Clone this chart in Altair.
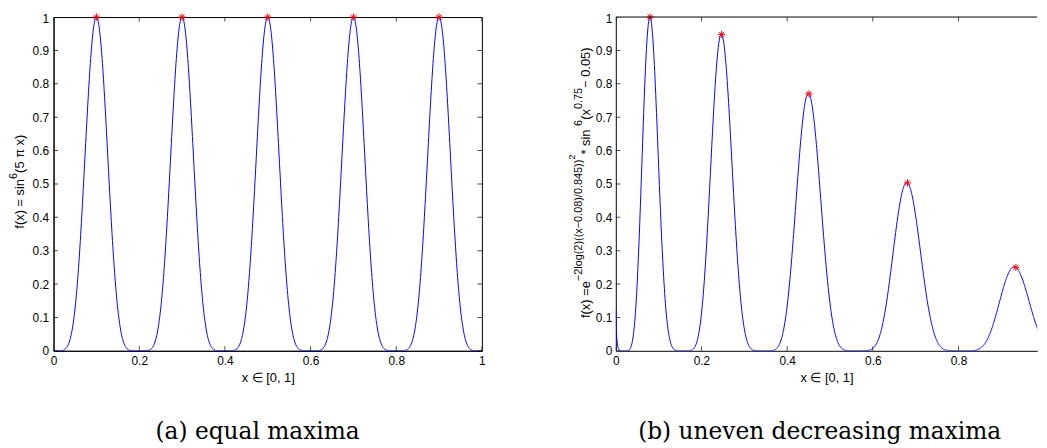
import numpy as np
import pandas as pd
import altair as alt

# ---------------- data ----------------
# sample grid and the two functions named on the y axes
x_grid = np.linspace(0.0, 1.0, 1201)
curve_a = np.sin(5 * np.pi * x_grid) ** 6
curve_b = np.exp(-2 * np.log(2) * ((x_grid - 0.08) / 0.854) ** 2) * np.sin(5 * np.pi * (x_grid ** 0.75 - 0.05)) ** 6

# maxima (red asterisks)
peaks_a_x = [0.1, 0.3, 0.5, 0.7, 0.9]
peaks_a_y = [1.0, 1.0, 1.0, 1.0, 1.0]
peaks_b_x = [0.08, 0.247, 0.451, 0.681, 0.934]
peaks_b_y = [1.0, 0.948, 0.770, 0.503, 0.250]

# tick values
x_ticks_a = [0, 0.2, 0.4, 0.6, 0.8, 1]
x_ticks_b = [0, 0.2, 0.4, 0.6, 0.8]
y_ticks = [0, 0.1, 0.2, 0.3, 0.4, 0.5, 0.6, 0.7, 0.8, 0.9, 1]

x_title = "x \u2208 [0, 1]"
caption_a = "(a) equal maxima"
caption_b = "(b) uneven decreasing maxima"

# ---------------- layout ----------------
FONT = "Liberation Sans"
UNIT = 432.5            # px per x unit
W_A = UNIT
W_B = 425.5
XMAX_B = W_B / UNIT
PLOT_TOP_ABS = 12
H = 349 - PLOT_TOP_ABS
SPACING = 134.7

AW = {' ': 278, '(': 333, ')': 333, '*': 389, ',': 278, '-': 333, '.': 278, '/': 278,
      '=': 584, 'e': 556, 'f': 278, 'g': 556, 'i': 222, 'l': 222, 'n': 556, 'o': 556,
      's': 500, 'x': 500, '\u2212': 584, '\u03c0': 570}


def tw(t, fs):
    return sum(AW.get(c, 556) for c in t) * fs / 1000.0


one = pd.DataFrame({"a": [0]})
ASTERISK = "M0,-1L0,1M-1,0L1,0M-0.7,-0.7L0.7,0.7M-0.7,0.7L0.7,-0.7"


def label_layers(segments, base_x, center_y):
    total = sum(tw(t, fs) for t, fs, r in segments)
    pos = center_y + total / 2
    out = []
    for t, fs, r in segments:
        out.append(
            alt.Chart(one).mark_text(text=t, angle=270, align="left", baseline="alphabetic",
                                     font=FONT, fontSize=fs, color="black")
            .encode(x=alt.value(base_x - r), y=alt.value(pos))
        )
        pos -= tw(t, fs)
    return out


def panel(xv, yv, px, py, xdomain, width, xticks, right_ticks, segs, seg_x, seg_cy,
          caption, cap_x, view_stroke, top_rule, pin, ypad):
    xs = alt.Scale(domain=xdomain, nice=False, zero=False)
    ys = alt.Scale(domain=[0, 1], nice=False, zero=False)
    ax_x = alt.Axis(values=xticks, format="~g", title=x_title, labelFlush=False)
    ax_y = alt.Axis(values=y_ticks, format="~g", title="", labelPadding=ypad,
                    labelOffset=alt.condition("datum.value == 1", alt.value(1.5), alt.value(0)))
    cdf = pd.DataFrame({"x": xv, "y": yv})
    pdf = pd.DataFrame({"x": px, "y": py})
    xtdf = pd.DataFrame({"x": xticks})
    ytdf = pd.DataFrame({"y": y_ticks})

    X = alt.X("x:Q", scale=xs, axis=ax_x)
    Y = alt.Y("y:Q", scale=ys, axis=ax_y)

    line = alt.Chart(cdf).mark_line(color="#0000ff", strokeWidth=1, clip=True).encode(x=X, y=Y)
    pts = alt.Chart(pdf).mark_point(shape=ASTERISK, size=52, filled=False, color="#ff0000",
                                    strokeWidth=1, opacity=1).encode(x=X, y=Y)

    tick_kw = dict(color="black", size=9, thickness=1, clip=True)
    layers = []
    layers.append(alt.Chart(xtdf).mark_tick(**tick_kw).encode(x=X, y=alt.value(H)))
    layers.append(alt.Chart(xtdf).mark_tick(**tick_kw).encode(x=X, y=alt.value(0)))
    layers.append(alt.Chart(ytdf).mark_tick(**tick_kw).encode(y=Y, x=alt.value(0)))
    if right_ticks:
        layers.append(alt.Chart(ytdf).mark_tick(**tick_kw).encode(y=Y, x=alt.value(width)))
    if top_rule:
        layers.append(alt.Chart(one).mark_rule(color="black", strokeWidth=1).encode(
            x=alt.value(0), x2=alt.value(width), y=alt.value(0)))
    if pin is not None:
        layers.append(alt.Chart(one).mark_rule(opacity=0).encode(
            x=alt.value(pin), y=alt.value(0), y2=alt.value(1)))
    layers += label_layers(segs, seg_x, seg_cy)
    layers.append(alt.Chart(one).mark_text(text=caption, font="DejaVu Serif", fontSize=23.5,
                                           align="center", baseline="alphabetic", color="black")
                  .encode(x=alt.value(cap_x), y=alt.value(438 - PLOT_TOP_ABS)))

    return alt.layer(line, pts, *layers).properties(
        width=width, height=H,
        view=alt.ViewBackground(stroke=view_stroke, strokeWidth=1),
    )


segs_a = [("f(x) = sin", 13, 0), ("6", 11, 7), ("(5 \u03c0 x)", 13, 0)]
segs_b = [("f(x) =e", 13, 0), ("\u22122log(2)((x\u22120.08)/0.845))", 11, 8), ("2", 9, 15),
          (" * sin", 13, 0), ("6", 11, 8), ("(x", 13, 0), ("0.75", 11, 8),
          (" \u2212 0.05)", 13, 0)]

left = panel(x_grid, curve_a, peaks_a_x, peaks_a_y, [0, 1], W_A, x_ticks_a, True,
             segs_a, -29.5, 179 - PLOT_TOP_ABS, caption_a, 259.5 - 53.5,
             "black", False, -45.5, 5)
right = panel(x_grid, curve_b, peaks_b_x, peaks_b_y, [0, XMAX_B], W_B, x_ticks_b, False,
              segs_b, 595 - 620.7, 177.5 - PLOT_TOP_ABS, caption_b, 826.5 - 620.7,
              "transparent", True, None, 4)

chart = alt.hconcat(left, right, spacing=SPACING, bounds="flush").properties(
    padding={"left": 0, "top": 0, "right": 0, "bottom": 0}
).configure_axis(
    labelFont=FONT, labelFontSize=12, labelColor="black",
    titleFont=FONT, titleFontSize=13, titleFontWeight="normal", titleColor="black",
    ticks=False, grid=False, domainColor="black", domainWidth=1,
    labelPadding=5, titlePadding=5,
)

chart.save("out.html", embed_options={"renderer": "svg", "actions": False})
